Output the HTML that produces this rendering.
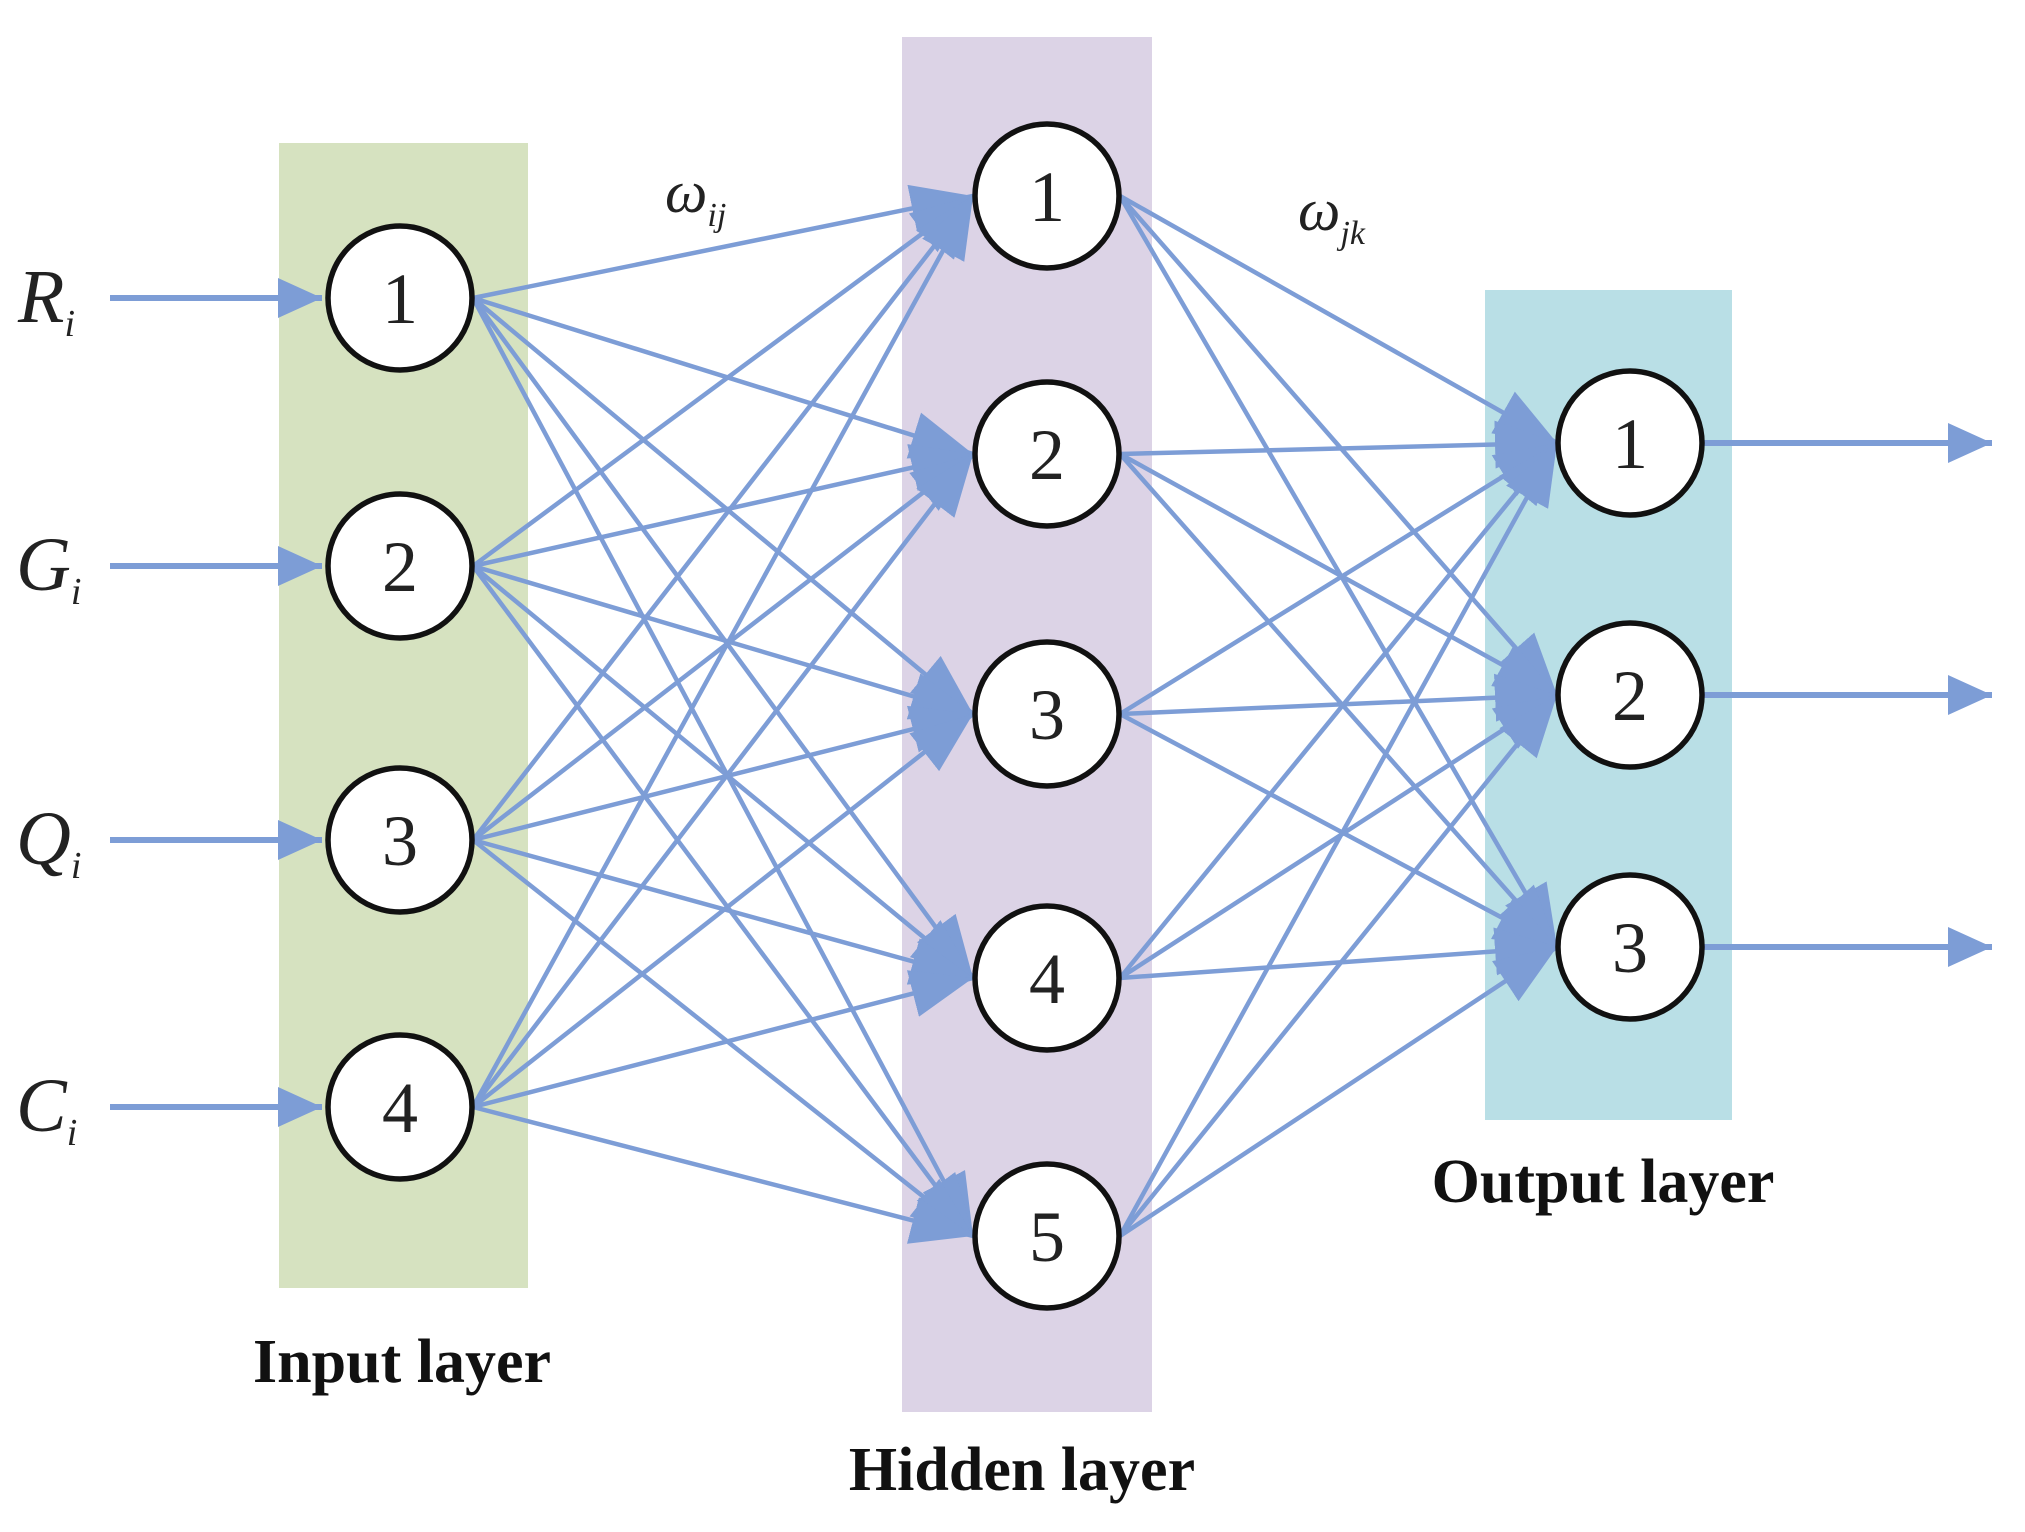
<!DOCTYPE html>
<html><head><meta charset="utf-8"><style>
html,body{margin:0;padding:0;background:#fff;}
svg{display:block;}
</style></head><body>
<svg width="2025" height="1532" viewBox="0 0 2025 1532" xmlns="http://www.w3.org/2000/svg">
<defs>
<marker id="a" markerUnits="userSpaceOnUse" markerWidth="64" markerHeight="48" refX="62" refY="24" orient="auto">
<path d="M0,0 L62,24 L0,48 Z" fill="#7d9dd6"/>
</marker>
<marker id="b" markerUnits="userSpaceOnUse" markerWidth="46" markerHeight="40" refX="44" refY="20" orient="auto">
<path d="M0,0 L44,20 L0,40 Z" fill="#7d9dd6"/>
</marker>
</defs>
<rect x="279" y="143" width="249" height="1145" fill="#d6e2c0"/>
<rect x="902" y="37" width="250" height="1375" fill="#dcd3e6"/>
<rect x="1485" y="290" width="247" height="830" fill="#b9dfe6"/>
<g stroke="#7d9dd6" stroke-width="6" fill="none">
<line x1="110" y1="298" x2="322" y2="298" marker-end="url(#b)"/>
<line x1="110" y1="566" x2="322" y2="566" marker-end="url(#b)"/>
<line x1="110" y1="840" x2="322" y2="840" marker-end="url(#b)"/>
<line x1="110" y1="1107" x2="322" y2="1107" marker-end="url(#b)"/>
<line x1="1703" y1="443" x2="1992" y2="443" marker-end="url(#b)"/>
<line x1="1703" y1="695" x2="1992" y2="695" marker-end="url(#b)"/>
<line x1="1703" y1="947" x2="1992" y2="947" marker-end="url(#b)"/>
</g>
<g stroke="#7d9dd6" stroke-width="4.5" fill="none" marker-end="url(#a)">
<line x1="473" y1="298" x2="973" y2="196"/><line x1="473" y1="298" x2="973" y2="454"/><line x1="473" y1="298" x2="973" y2="714"/><line x1="473" y1="298" x2="973" y2="978"/><line x1="473" y1="298" x2="973" y2="1236"/>
<line x1="473" y1="566" x2="973" y2="196"/><line x1="473" y1="566" x2="973" y2="454"/><line x1="473" y1="566" x2="973" y2="714"/><line x1="473" y1="566" x2="973" y2="978"/><line x1="473" y1="566" x2="973" y2="1236"/>
<line x1="473" y1="840" x2="973" y2="196"/><line x1="473" y1="840" x2="973" y2="454"/><line x1="473" y1="840" x2="973" y2="714"/><line x1="473" y1="840" x2="973" y2="978"/><line x1="473" y1="840" x2="973" y2="1236"/>
<line x1="473" y1="1107" x2="973" y2="196"/><line x1="473" y1="1107" x2="973" y2="454"/><line x1="473" y1="1107" x2="973" y2="714"/><line x1="473" y1="1107" x2="973" y2="978"/><line x1="473" y1="1107" x2="973" y2="1236"/>
<line x1="1120" y1="196" x2="1557" y2="443"/><line x1="1120" y1="196" x2="1557" y2="695"/><line x1="1120" y1="196" x2="1557" y2="947"/>
<line x1="1120" y1="454" x2="1557" y2="443"/><line x1="1120" y1="454" x2="1557" y2="695"/><line x1="1120" y1="454" x2="1557" y2="947"/>
<line x1="1120" y1="714" x2="1557" y2="443"/><line x1="1120" y1="714" x2="1557" y2="695"/><line x1="1120" y1="714" x2="1557" y2="947"/>
<line x1="1120" y1="978" x2="1557" y2="443"/><line x1="1120" y1="978" x2="1557" y2="695"/><line x1="1120" y1="978" x2="1557" y2="947"/>
<line x1="1120" y1="1236" x2="1557" y2="443"/><line x1="1120" y1="1236" x2="1557" y2="695"/><line x1="1120" y1="1236" x2="1557" y2="947"/>
</g>
<g fill="#fff" stroke="#111" stroke-width="5.5">
<circle cx="400" cy="298" r="72"/><circle cx="400" cy="566" r="72"/><circle cx="400" cy="840" r="72"/><circle cx="400" cy="1107" r="72"/>
<circle cx="1047" cy="196" r="72"/><circle cx="1047" cy="454" r="72"/><circle cx="1047" cy="714" r="72"/><circle cx="1047" cy="978" r="72"/><circle cx="1047" cy="1236" r="72"/>
<circle cx="1630" cy="443" r="72"/><circle cx="1630" cy="695" r="72"/><circle cx="1630" cy="947" r="72"/>
</g>
<g font-family="Liberation Serif, serif" font-size="72" fill="#222" text-anchor="middle">
<text x="400" y="323">1</text><text x="400" y="591">2</text><text x="400" y="865">3</text><text x="400" y="1132">4</text>
<text x="1047" y="221">1</text><text x="1047" y="479">2</text><text x="1047" y="739">3</text><text x="1047" y="1003">4</text><text x="1047" y="1261">5</text>
<text x="1630" y="468">1</text><text x="1630" y="720">2</text><text x="1630" y="972">3</text>
</g>
<g font-family="Liberation Serif, serif" font-style="italic" fill="#222">
<text x="18" y="322" font-size="76">R<tspan font-size="38" dy="14">i</tspan></text>
<text x="16" y="590" font-size="76">G<tspan font-size="38" dy="14">i</tspan></text>
<text x="16" y="864" font-size="76">Q<tspan font-size="38" dy="14">i</tspan></text>
<text x="16" y="1131" font-size="76">C<tspan font-size="38" dy="14">i</tspan></text>
<text x="665" y="212" font-size="60">ω<tspan font-size="34" dy="14">ij</tspan></text>
<text x="1298" y="230" font-size="60">ω<tspan font-size="34" dy="14">jk</tspan></text>
</g>
<g font-family="Liberation Serif, serif" font-weight="bold" font-size="62" fill="#111" text-anchor="middle">
<text x="402" y="1382">Input layer</text>
<text x="1022" y="1490">Hidden layer</text>
<text x="1603" y="1202">Output layer</text>
</g>
</svg>
</body></html>
